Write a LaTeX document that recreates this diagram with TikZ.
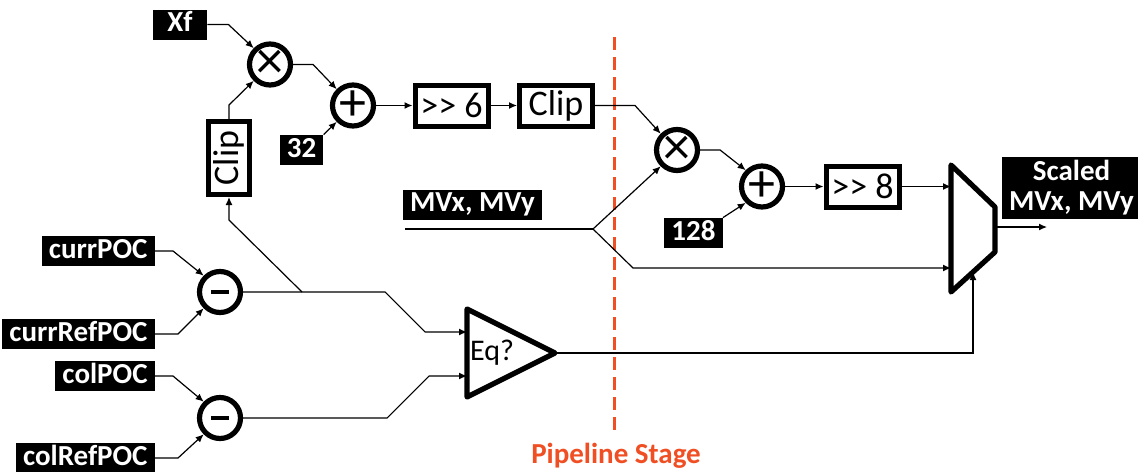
\documentclass[tikz,border=0pt]{standalone}
\usepackage{fontspec}
\setmainfont{Carlito}
\newfontfamily\plainfont{Carlito}
\usetikzlibrary{arrows.meta}
\definecolor{stagered}{RGB}{240,78,35}

\begin{document}
\begin{tikzpicture}[x=0.5pt,y=-0.5pt,
  tagbase/.style={fill=black,text=white,font=\fontsize{14.5}{15}\selectfont\bfseries,inner xsep=3.5pt,inner ysep=1pt},
  tag/.style={tagbase,text height=10pt,text depth=3pt},
  opbox/.style={draw,line width=2.5pt,font=\fontsize{18}{19}\selectfont\plainfont,minimum width=36.5pt,minimum height=20.5pt,inner sep=0pt},
  op/.style={circle,draw,line width=2.6pt,minimum size=20.5pt,inner sep=0pt,font=\fontsize{27}{27}\selectfont},
  wire/.style={line width=0.6pt},
  sig/.style={wire,-{Latex[length=4pt,width=3.5pt]}}]
\useasboundingbox (0,0) rectangle (1138,471);

% upper path: scale factor
\node[tag,minimum width=27pt] (xf) at (180,24.5) {Xf};
\node[op] (mul1) at (270,64.5) {×};
\node[op] (add1) at (353,105.5) {+};
\node[tag] (c32) at (301.5,150) {32};
\node[opbox,rotate=90] (clip1) at (229,158) {Clip};
\node[opbox] (shr6) at (451.5,105.5) {{>}\kern0pt{>} 6};
\node[opbox] (clip2) at (556,105.5) {Clip};

% second stage
\node[op] (mul2) at (677,150) {×};
\node[op] (add2) at (762,186.5) {+};
\node[tag] (c128) at (693.5,233) {128};
\node[opbox] (shr8) at (862.5,186.5) {{>}\kern0pt{>} 8};
\node[tag] (mvin) at (472.5,204.5) {MVx, MVy};
\node[tagbase,align=center,minimum width=66.5pt,minimum height=31pt] (scaled) at (1071.5,188) {Scaled\\MVx, MVy};

% mux
\draw[line width=2.6pt,line join=round] (951,165) -- (995,207) -- (995,252) -- (951,292) -- cycle;
\coordinate (muxa) at (951,186.5);
\coordinate (muxb) at (951,268);
\coordinate (muxsel) at (973,272);
\coordinate (muxout) at (995,227);
\coordinate (scaledout) at (1047,227);

% POC inputs
\node[tag,anchor=east] (currpoc) at (155,251) {currPOC};
\node[tag,anchor=east] (currrefpoc) at (155,334) {currRefPOC};
\node[tag,anchor=east] (colpoc) at (155,376) {colPOC};
\node[tag,anchor=east] (colrefpoc) at (155,458) {colRefPOC};
\node[op] (sub1) at (220,292) {\rule{9pt}{2pt}};
\node[op] (sub2) at (220,418) {\rule{9pt}{2pt}};

% compare
\draw[line width=2.6pt,line join=round] (467,309) -- (555,353) -- (467,397) -- cycle;
\node[font=\fontsize{15}{16}\selectfont] (eqlabel) at (492,353) {Eq?};
\coordinate (eqa) at (467,332);
\coordinate (eqb) at (467,376);
\coordinate (eqout) at (555,353);

% pipeline stage
\draw[stagered,line width=1.5pt,dash pattern=on 6.5pt off 3.5pt] (614,37) -- (614,436);
\node[text=stagered,font=\fontsize{14.5}{15}\selectfont\bfseries] (stage) at (616,456) {Pipeline Stage};

% wires
\draw[sig] (xf.east) -- ++(21,0) -- (mul1.135);
\draw[sig] (clip1.east) -- ++(0,-14) -- (mul1.225);
\draw[sig] (mul1.east) -- ++(20,0) -- (add1.135);
\draw[sig] (c32.north east) -- (add1.225);
\draw[sig] (add1.east) -- (shr6.west);
\draw[sig] (shr6.east) -- (clip2.west);
\draw[sig] (clip2.east) -- ++(40,0) -- (mul2.135);
\draw[sig] (mul2.east) -- ++(20,0) -- (add2.135);
\draw[sig] (c128.north east) -- (add2.225);
\draw[sig] (add2.east) -- (shr8.west);
\draw[sig] (shr8.east) -- (muxa);
\draw[sig] (muxout) -- (scaledout);

\coordinate (mvstart) at (405,229);
\coordinate (mvsplit) at (593,229);
\draw[wire] (mvstart) -- (mvsplit);
\draw[sig] (mvsplit) -- (mul2.225);
\draw[sig] (mvsplit) -- ++(40,39) -- (muxb);

\draw[sig] (currpoc.east) -- ++(18,0) -- (sub1.135);
\draw[sig] (currrefpoc.east) -- ++(23,0) -- (sub1.225);
\draw[sig] (colpoc.east) -- ++(18,0) -- (sub2.135);
\draw[sig] (colrefpoc.east) -- ++(23,0) -- (sub2.225);

\coordinate (diffsplit) at (302,292);
\draw[sig] (sub1.east) -- ++(142,0) -- ++(40,40) -- (eqa);
\draw[sig] (diffsplit) -- ++(-73,-72) -- (clip1.west);
\draw[sig] (sub2.east) -- ++(144,0) -- ++(42,-42) -- (eqb);
\draw[sig] (eqout) -| (muxsel);

\end{tikzpicture}
\end{document}
